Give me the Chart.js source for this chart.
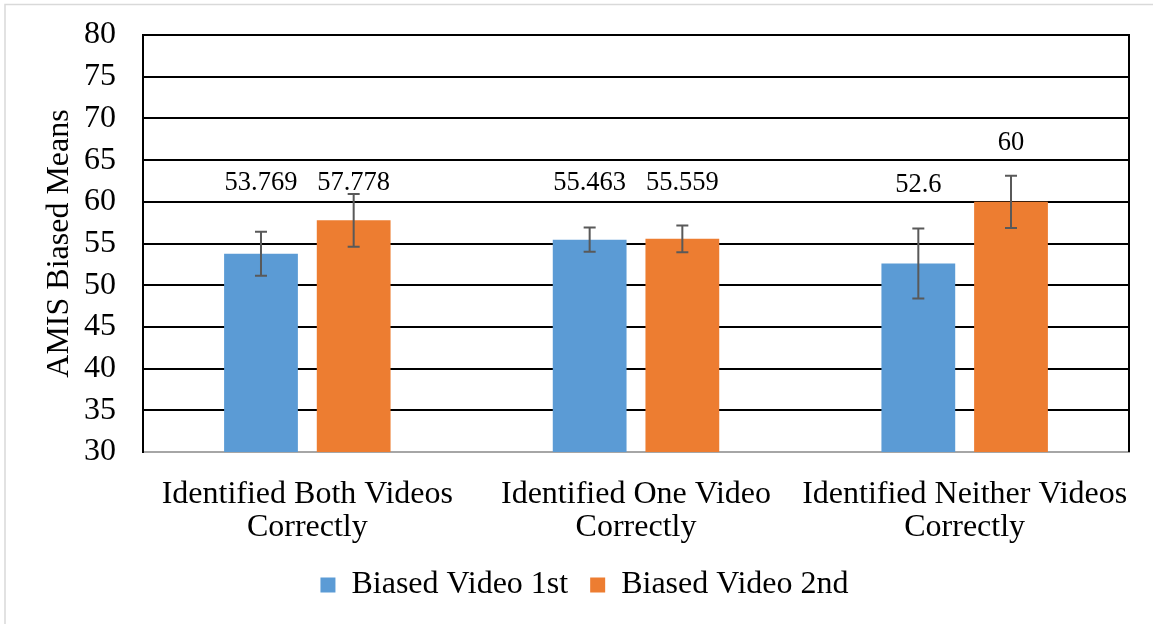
<!DOCTYPE html>
<html>
<head>
<meta charset="utf-8">
<title>AMIS Biased Means</title>
<script src="https://cdn.jsdelivr.net/npm/chart.js@4.4.1/dist/chart.umd.min.js"></script>
<style>
  html, body { margin: 0; padding: 0; background: #fff; }
  canvas { display: block; }
</style>
</head>
<body>
<canvas id="chart" width="1153" height="624"></canvas>
<script>
// data
const categories = [
  ['Identified Both Videos', 'Correctly'],
  ['Identified One Video', 'Correctly'],
  ['Identified Neither Videos', 'Correctly']
];
const seriesNames = ['Biased Video 1st', 'Biased Video 2nd'];
const video1st = [53.769, 55.463, 52.6];
const video2nd = [57.778, 55.559, 60];
const err1st = [2.63, 1.46, 4.2];
const err2nd = [3.16, 1.6, 3.13];
const yMin = 30, yMax = 80, yStep = 5;

const serif = "'Liberation Serif', 'Times New Roman', serif";

// outer frame + box around the plot area
const framePlugin = {
  id: 'frame',
  beforeDraw(chart) {
    const ctx = chart.ctx;
    ctx.save();
    ctx.strokeStyle = '#d9d9d9';
    ctx.lineWidth = 1.5;
    ctx.beginPath();
    ctx.moveTo(5, 624);
    ctx.lineTo(5, 4.5);
    ctx.lineTo(1153, 4.5);
    ctx.stroke();
    ctx.restore();
  },
  afterDraw(chart) {
    const a = chart.chartArea;
    const ctx = chart.ctx;
    ctx.save();
    ctx.strokeStyle = '#000';
    ctx.lineWidth = 2;
    ctx.beginPath();
    ctx.moveTo(a.left, a.top);
    ctx.lineTo(a.right, a.top);
    ctx.lineTo(a.right, a.bottom);
    ctx.stroke();
    ctx.restore();
  }
};

// error bars and value labels
const errorBarPlugin = {
  id: 'errorBars',
  afterDatasetsDraw(chart, args, opts) {
    const ctx = chart.ctx;
    const y = chart.scales.y;
    ctx.save();
    chart.data.datasets.forEach((ds, i) => {
      const meta = chart.getDatasetMeta(i);
      meta.data.forEach((bar, j) => {
        const v = ds.data[j];
        const e = ds.errors[j];
        const top = y.getPixelForValue(v + e);
        const bot = y.getPixelForValue(v - e);
        ctx.strokeStyle = '#595959';
        ctx.lineWidth = 2;
        ctx.beginPath();
        ctx.moveTo(bar.x, top);
        ctx.lineTo(bar.x, bot);
        ctx.moveTo(bar.x - 6, top);
        ctx.lineTo(bar.x + 6, top);
        ctx.moveTo(bar.x - 6, bot);
        ctx.lineTo(bar.x + 6, bot);
        ctx.stroke();

        ctx.fillStyle = '#000';
        ctx.font = '26.5px ' + serif;
        ctx.textAlign = 'center';
        ctx.textBaseline = 'middle';
        ctx.fillText(String(v), bar.x, y.getPixelForValue(opts.labelAt[i][j]));
      });
    });
    ctx.restore();
  }
};

new Chart(document.getElementById('chart'), {
  type: 'bar',
  data: {
    labels: categories,
    datasets: [
      { label: seriesNames[0], data: video1st, errors: err1st, backgroundColor: '#5B9BD5' },
      { label: seriesNames[1], data: video2nd, errors: err2nd, backgroundColor: '#ED7D31' }
    ]
  },
  options: {
    responsive: false,
    animation: false,
    devicePixelRatio: 1,
    barPercentage: 0.796,
    categoryPercentage: 0.564,
    layout: { padding: { left: 40, right: 24, top: 35, bottom: 13 } },
    scales: {
      x: {
        grid: { display: false, drawTicks: false },
        border: { display: true, color: '#a6a6a6', width: 2 },
        ticks: { color: '#000', padding: 26.5, font: { family: serif, size: 32, lineHeight: 1.03 }, maxRotation: 0 },
        afterFit(scale) {
          scale.height = 95;
          scale.paddingLeft = 0;
          scale.paddingRight = 0;
        }
      },
      y: {
        min: yMin,
        max: yMax,
        ticks: { stepSize: yStep, autoSkip: false, color: '#000', padding: 27, font: { family: serif, size: 32 } },
        grid: { color: '#000', lineWidth: 2, drawTicks: false },
        border: { display: true, color: '#000', width: 2 },
        title: {
          display: true,
          text: 'AMIS Biased Means',
          color: '#000',
          padding: { top: 0, bottom: 0 },
          font: { family: serif, size: 32, lineHeight: 1.2 }
        },
        afterFit(scale) {
          scale.width = 103;
          scale.paddingTop = 0;
          scale.paddingBottom = 0;
        }
      }
    },
    plugins: {
      legend: {
        position: 'bottom',
        labels: {
          color: '#000',
          boxWidth: 15,
          boxHeight: 15,
          padding: 22,
          font: { family: serif, size: 32 }
        }
      },
      tooltip: { enabled: false },
      errorBars: {
        labelAt: [[62.25, 62.25, 62.0], [62.25, 62.25, 67.05]]
      }
    }
  },
  plugins: [framePlugin, errorBarPlugin]
});
</script>
</body>
</html>
